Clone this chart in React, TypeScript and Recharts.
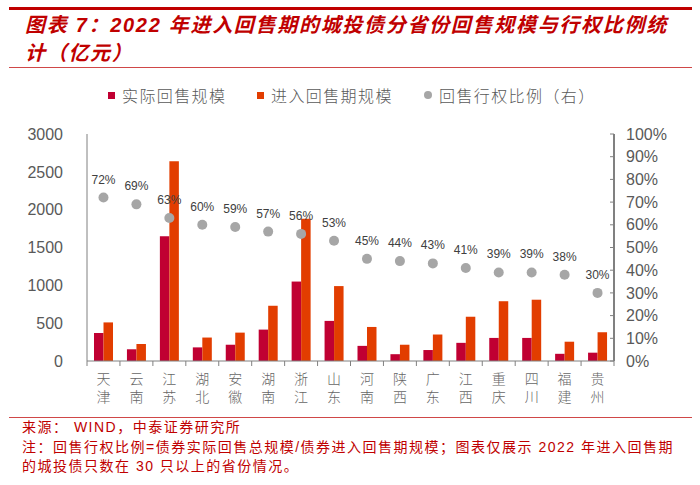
import {
  Bar,
  ComposedChart,
  LabelList,
  Line,
  XAxis,
  YAxis,
} from "recharts";

const provinces = [
  "天津", "云南", "江苏", "湖北", "安徽", "湖南", "浙江", "山东",
  "河南", "陕西", "广东", "江西", "重庆", "四川", "福建", "贵州",
];
const actualScale = [370, 155, 1650, 180, 215, 415, 1050, 530, 200, 90, 145, 240, 305, 305, 95, 110];
const enteredScale = [510, 225, 2640, 310, 375, 730, 1880, 990, 450, 215, 350, 585, 790, 810, 255, 380];
const exerciseRatio = [72, 69, 63, 60, 59, 57, 56, 53, 45, 44, 43, 41, 39, 39, 38, 30];
const leftTicks = [0, 500, 1000, 1500, 2000, 2500, 3000];
const rightTicks = [0, 10, 20, 30, 40, 50, 60, 70, 80, 90, 100];

const data = provinces.map((name, i) => ({
  name,
  actual: actualScale[i],
  entered: enteredScale[i],
  ratio: exerciseRatio[i],
}));

const RED = "#C00000";
const BAR_RED = "#C00032";
const BAR_ORANGE = "#E23D00";
const DOT_GRAY = "#A6A6A6";
const CJK = '"Liberation Sans", "Noto Sans CJK SC", sans-serif';

const ProvinceTick = (props: any) => {
  const { x, y, payload, index } = props;
  const half = payload?.offset || 527 / 32;
  const chars = String(payload.value).split("");
  return (
    <g>
      <line x1={x - half} x2={x - half} y1={y} y2={y + 5} stroke="#808080" />
      {index === provinces.length - 1 && (
        <line x1={x + half} x2={x + half} y1={y} y2={y + 5} stroke="#808080" />
      )}
      {chars.map((c, i) => (
        <text
          key={i}
          x={x}
          y={y + 18 + i * 18}
          textAnchor="middle"
          dominantBaseline="central"
          fill="#666666"
          fontSize={14}
          fontWeight={300}
          fontFamily={CJK}
        >
          {c}
        </text>
      ))}
    </g>
  );
};

const LegendItem = ({ color, round, label, left }: any) => (
  <div
    style={{
      position: "absolute",
      left,
      top: 85,
      height: 20,
      display: "flex",
      alignItems: "center",
      whiteSpace: "nowrap",
    }}
  >
    <span
      style={{
        width: round ? 8 : 7,
        height: round ? 8 : 7,
        borderRadius: round ? "50%" : 0,
        background: color,
        display: "inline-block",
        marginRight: 7,
      }}
    />
    <span style={{ fontSize: 16, color: "#595959", letterSpacing: 1.4, fontWeight: 300 }}>
      {label}
    </span>
  </div>
);

const App = () => {
  return (
    <div
      style={{
        position: "absolute",
        left: 0,
        top: 0,
        width: 700,
        height: 485,
        background: "#fff",
        fontFamily: CJK,
        overflow: "hidden",
      }}
    >
      <div style={{ position: "absolute", left: 9, top: 7, width: 683, height: 3, background: RED }} />
      <div
        style={{
          position: "absolute",
          left: 25,
          top: 11,
          fontSize: 20,
          lineHeight: "28px",
          fontWeight: 700,
          fontStyle: "italic",
          color: RED,
          letterSpacing: 1.7,
          whiteSpace: "nowrap",
        }}
      >
        图表 7：2022 年进入回售期的城投债分省份回售规模与行权比例统
        <br />
        计（亿元）
      </div>
      <div style={{ position: "absolute", left: 9, top: 67, width: 683, height: 1, background: "#D04848" }} />

      <LegendItem color={BAR_RED} label="实际回售规模" left={108} />
      <LegendItem color={BAR_ORANGE} label="进入回售期规模" left={257} />
      <LegendItem color={DOT_GRAY} round label="回售行权比例（右）" left={424} />

      <div style={{ position: "absolute", left: 0, top: 120 }}>
        <ComposedChart
          width={700}
          height={290}
          data={data}
          margin={{ top: 14, right: 0, left: 0, bottom: 0 }}
          barGap={0}
        >
          <XAxis
            dataKey="name"
            height={49}
            interval={0}
            tickLine={false}
            tickSize={0}
            tickMargin={0}
            axisLine={{ stroke: "#808080" }}
            tick={<ProvinceTick />}
          />
          <YAxis
            yAxisId="left"
            width={87}
            domain={[0, 3000]}
            ticks={leftTicks}
            interval={0}
            tickLine={false}
            axisLine={{ stroke: "#808080" }}
            tickMargin={18}
            tick={{ fill: "#595959", fontSize: 16, fontFamily: '"Liberation Sans", sans-serif' }}
          />
          <YAxis
            yAxisId="right"
            orientation="right"
            width={86}
            domain={[0, 100]}
            ticks={rightTicks}
            interval={0}
            tickFormatter={(v) => `${v}%`}
            tickSize={-4}
            tickMargin={16}
            tickLine={{ stroke: "#808080" }}
            axisLine={{ stroke: "#808080", strokeWidth: 2 }}
            tick={{ fill: "#595959", fontSize: 16, fontFamily: '"Liberation Sans", sans-serif' }}
          />
          <Bar yAxisId="left" dataKey="actual" fill={BAR_RED} barSize={9.5} isAnimationActive={false} />
          <Bar yAxisId="left" dataKey="entered" fill={BAR_ORANGE} barSize={9.5} isAnimationActive={false} />
          <Line
            yAxisId="right"
            dataKey="ratio"
            stroke="none"
            dot={{ r: 5, fill: DOT_GRAY, stroke: "none" }}
            activeDot={false}
            isAnimationActive={false}
          >
            <LabelList
              dataKey="ratio"
              position="top"
              offset={14}
              formatter={(v: any) => `${v}%`}
              fill="#404040"
              fontSize={12}
              fontFamily='"Liberation Sans", sans-serif'
            />
          </Line>
        </ComposedChart>
      </div>

      <div style={{ position: "absolute", left: 9, top: 417, width: 683, height: 1, background: "#D04848" }} />
      <div
        style={{
          position: "absolute",
          left: 22,
          top: 418,
          fontSize: 14,
          lineHeight: "19.5px",
          color: RED,
          letterSpacing: 1.5,
          whiteSpace: "nowrap",
        }}
      >
        来源： WIND，中泰证券研究所
        <br />
        注：回售行权比例=债券实际回售总规模/债券进入回售期规模；图表仅展示 2022 年进入回售期
        <br />
        的城投债只数在 30 只以上的省份情况。
      </div>
    </div>
  );
};

export default App;
